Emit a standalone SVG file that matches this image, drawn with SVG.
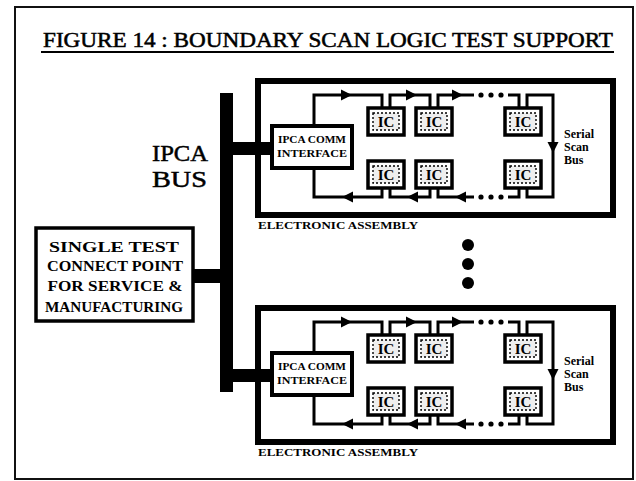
<svg xmlns="http://www.w3.org/2000/svg" width="636" height="481" viewBox="0 0 636 481">
<style>
.frame{fill:none;stroke:#111;stroke-width:2}
.asm{fill:none;stroke:#000;stroke-width:6}
.box{fill:#fff;stroke:#000;stroke-width:4}
.icb{fill:#fff;stroke:#000;stroke-width:3.5}
.icd{fill:#eee;stroke:#000;stroke-width:1.4;stroke-dasharray:2 2}
.ln{fill:none;stroke:#000;stroke-width:3}
.bus{fill:#000}
.t{font-family:"Liberation Serif",serif;font-weight:bold;fill:#000}
.r{font-weight:normal;stroke:#000;stroke-width:0.5}
.ict{font-family:"Liberation Serif",serif;font-weight:bold;font-size:15px;text-anchor:middle;fill:#000}
.ah{fill:#000}
</style>
<defs>
<g id="ic">
<rect class="icb" x="0" y="0" width="36" height="27"/>
<rect class="icd" x="5" y="5" width="26" height="17"/>
<text class="ict" x="18" y="19">IC</text>
</g>
</defs>
<rect class="frame" x="15" y="7" width="618" height="472"/>
<g id="title">
<text class="t r" x="43" y="47" font-size="20" textLength="570" lengthAdjust="spacingAndGlyphs">FIGURE 14 : BOUNDARY SCAN LOGIC TEST SUPPORT</text>
<rect x="41" y="51" width="573" height="2" fill="#000"/>
</g>
<g id="ipca-bus">
<rect class="bus" x="220" y="93" width="13" height="299"/>
<text class="t r" x="152" y="161" font-size="24" textLength="56" lengthAdjust="spacingAndGlyphs">IPCA</text>
<text class="t r" x="152" y="187" font-size="24" textLength="55" lengthAdjust="spacingAndGlyphs">BUS</text>
</g>
<g id="connectors">
<rect class="bus" x="233" y="142" width="40" height="13"/>
<rect class="bus" x="233" y="369" width="40" height="13"/>
<rect class="bus" x="193" y="269" width="28" height="14"/>
</g>
<g id="test-point">
<rect x="36" y="228" width="157" height="93" fill="#fff" stroke="#000" stroke-width="3.5"/>
<text class="t" x="114" y="252" font-size="14" text-anchor="middle" textLength="130" lengthAdjust="spacingAndGlyphs">SINGLE TEST</text>
<text class="t" x="115" y="271" font-size="14" text-anchor="middle" textLength="136" lengthAdjust="spacingAndGlyphs">CONNECT POINT</text>
<text class="t" x="115" y="291" font-size="14" text-anchor="middle" textLength="135" lengthAdjust="spacingAndGlyphs">FOR SERVICE &amp;</text>
<text class="t" x="114" y="312" font-size="14" text-anchor="middle" textLength="138" lengthAdjust="spacingAndGlyphs">MANUFACTURING</text>
</g>
<g id="assembly1">
<rect class="asm" x="258" y="81" width="355" height="134"/>
<text class="t" x="258" y="229" font-size="10" textLength="160" lengthAdjust="spacingAndGlyphs">ELECTRONIC ASSEMBLY</text>
<path class="ln" d="M314 126 V95 H382 V108 M390 108 V95 H430 V108 M438 108 V95 H474 M508 95 H519 V108 M527 108 V95 H553 V197 H527 V188 M519 188 V197 H508 M474 197 H438 V188 M430 188 V197 H390 V188 M382 188 V197 H314 V168"/>
<circle cx="481" cy="95" r="2.6"/><circle cx="491" cy="95" r="2.6"/><circle cx="501" cy="95" r="2.6"/>
<circle cx="481" cy="197" r="2.6"/><circle cx="491" cy="197" r="2.6"/><circle cx="501" cy="197" r="2.6"/>
<polygon class="ah" points="352,95 341,89.5 341,100.5"/>
<polygon class="ah" points="417,95 406,89.5 406,100.5"/>
<polygon class="ah" points="463,95 452,89.5 452,100.5"/>
<polygon class="ah" points="553,153 547.5,142 558.5,142"/>
<polygon class="ah" points="342,197 353,191.5 353,202.5"/>
<polygon class="ah" points="407,197 418,191.5 418,202.5"/>
<polygon class="ah" points="455,197 466,191.5 466,202.5"/>
<rect class="box" x="272" y="126" width="80" height="42"/>
<text class="t" x="312" y="143" font-size="10.5" text-anchor="middle" textLength="68" lengthAdjust="spacingAndGlyphs">IPCA COMM</text>
<text class="t" x="312" y="157" font-size="10.5" text-anchor="middle" textLength="70" lengthAdjust="spacingAndGlyphs">INTERFACE</text>
<use href="#ic" x="368" y="108"/>
<use href="#ic" x="416" y="108"/>
<use href="#ic" x="505" y="108"/>
<use href="#ic" x="368" y="161"/>
<use href="#ic" x="416" y="161"/>
<use href="#ic" x="505" y="161"/>
<text class="t" x="564" y="138" font-size="12">Serial</text>
<text class="t" x="564" y="151" font-size="12">Scan</text>
<text class="t" x="564" y="164" font-size="12">Bus</text>
</g>
<g id="ellipsis">
<circle cx="468" cy="245" r="6"/>
<circle cx="468" cy="264" r="6"/>
<circle cx="468" cy="283" r="6"/>
</g>
<g id="assembly2" transform="translate(0,227)">
<rect class="asm" x="258" y="81" width="355" height="134"/>
<text class="t" x="258" y="229" font-size="10" textLength="160" lengthAdjust="spacingAndGlyphs">ELECTRONIC ASSEMBLY</text>
<path class="ln" d="M314 126 V95 H382 V108 M390 108 V95 H430 V108 M438 108 V95 H474 M508 95 H519 V108 M527 108 V95 H553 V197 H527 V188 M519 188 V197 H508 M474 197 H438 V188 M430 188 V197 H390 V188 M382 188 V197 H314 V168"/>
<circle cx="481" cy="95" r="2.6"/><circle cx="491" cy="95" r="2.6"/><circle cx="501" cy="95" r="2.6"/>
<circle cx="481" cy="197" r="2.6"/><circle cx="491" cy="197" r="2.6"/><circle cx="501" cy="197" r="2.6"/>
<polygon class="ah" points="352,95 341,89.5 341,100.5"/>
<polygon class="ah" points="417,95 406,89.5 406,100.5"/>
<polygon class="ah" points="463,95 452,89.5 452,100.5"/>
<polygon class="ah" points="553,153 547.5,142 558.5,142"/>
<polygon class="ah" points="342,197 353,191.5 353,202.5"/>
<polygon class="ah" points="407,197 418,191.5 418,202.5"/>
<polygon class="ah" points="455,197 466,191.5 466,202.5"/>
<rect class="box" x="272" y="126" width="80" height="42"/>
<text class="t" x="312" y="143" font-size="10.5" text-anchor="middle" textLength="68" lengthAdjust="spacingAndGlyphs">IPCA COMM</text>
<text class="t" x="312" y="157" font-size="10.5" text-anchor="middle" textLength="70" lengthAdjust="spacingAndGlyphs">INTERFACE</text>
<use href="#ic" x="368" y="108"/>
<use href="#ic" x="416" y="108"/>
<use href="#ic" x="505" y="108"/>
<use href="#ic" x="368" y="161"/>
<use href="#ic" x="416" y="161"/>
<use href="#ic" x="505" y="161"/>
<text class="t" x="564" y="138" font-size="12">Serial</text>
<text class="t" x="564" y="151" font-size="12">Scan</text>
<text class="t" x="564" y="164" font-size="12">Bus</text>
</g>
</svg>
